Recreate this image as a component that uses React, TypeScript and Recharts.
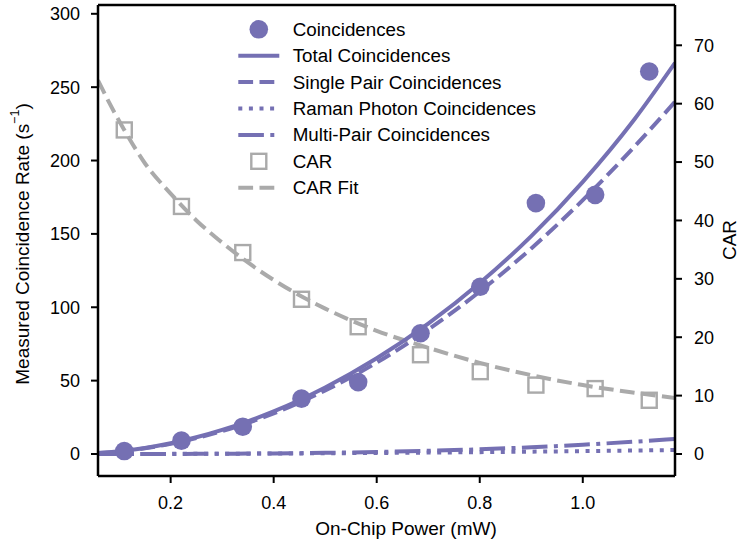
import {
  ComposedChart,
  Line,
  Scatter,
  XAxis,
  YAxis,
  ReferenceLine,
  Legend,
} from 'recharts';

const PURPLE = '#7570b3';
const GRAY = '#aaaaaa';
const FONT = '"Liberation Sans", Arial, sans-serif';

// measured points
const powers = [0.11, 0.221, 0.34, 0.454, 0.564, 0.685, 0.801, 0.909, 1.024, 1.129];
const coincidences = [2.0, 9.1, 18.6, 37.7, 49.0, 82.3, 114.0, 171.0, 176.6, 260.7];
const car = [55.5, 42.4, 34.5, 26.5, 21.8, 17.0, 14.1, 11.8, 11.2, 9.2];

// fitted curves
const fitPower = [0.059, 0.08, 0.11, 0.15, 0.2, 0.25, 0.3, 0.35, 0.4, 0.5, 0.6, 0.7, 0.8, 0.9, 1.0, 1.1, 1.179];
const totalFit = [0.6, 1.2, 2.2, 4.1, 7.3, 11.4, 16.4, 22.3, 29.0, 45.3, 65.2, 88.8, 116.5, 148.5, 185.5, 228, 266.6];
const singleFit = [0.6, 1.1, 2.1, 3.9, 6.9, 10.8, 15.6, 21.2, 27.7, 43.3, 62.3, 84.8, 110.7, 140.1, 173, 209.4, 240];
const ramanFit = [0.01, 0.01, 0.02, 0.05, 0.08, 0.12, 0.18, 0.24, 0.31, 0.49, 0.7, 0.96, 1.25, 1.6, 1.95, 2.36, 2.7];
const multiFit = [0, 0, 0.01, 0.02, 0.05, 0.1, 0.17, 0.27, 0.4, 0.8, 1.4, 2.2, 3.2, 4.6, 6.3, 8.4, 10.2];
const carFit = [64.0, 60.3, 55.5, 49.8, 44.6, 40.0, 36.2, 32.8, 29.8, 24.9, 21.1, 18.2, 15.6, 13.5, 11.8, 10.5, 9.6];

const xTicks = [0.2, 0.4, 0.6, 0.8, 1.0];
const leftTicks = [0, 50, 100, 150, 200, 250, 300];
const rightTicks = [0, 10, 20, 30, 40, 50, 60, 70];

const series = (xs: number[], ys: number[]) => xs.map((p, i) => ({ p, v: ys[i] }));

const LEGEND_ITEMS = [
  { name: 'Coincidences', kind: 'circle' },
  { name: 'Total Coincidences', kind: 'line', dash: undefined, color: PURPLE },
  { name: 'Single Pair Coincidences', kind: 'line', dash: '14.8 6.4', color: PURPLE },
  { name: 'Raman Photon Coincidences', kind: 'line', dash: '4 6.6', color: PURPLE },
  { name: 'Multi-Pair Coincidences', kind: 'line', dash: '25.6 6.4 4 6.4', color: PURPLE },
  { name: 'CAR', kind: 'square' },
  { name: 'CAR Fit', kind: 'line', dash: '14.8 6.4', color: GRAY },
];

const LegendBox = () => (
  <svg width={340} height={190} style={{ fontFamily: FONT, overflow: 'visible' }}>
    {LEGEND_ITEMS.map((it, i) => {
      const y = 15.3 + i * 26.4;
      return (
        <g key={it.name}>
          {it.kind === 'circle' && <circle cx={30.8} cy={y} r={9.3} fill={PURPLE} />}
          {it.kind === 'square' && (
            <rect x={23.3} y={y - 7.5} width={15} height={15} fill="none" stroke={GRAY} strokeWidth={2.4} />
          )}
          {it.kind === 'line' && (
            <line x1={10.3} x2={51.3} y1={y} y2={y} stroke={it.color} strokeWidth={4} strokeDasharray={it.dash} />
          )}
          <text x={64.7} y={y} dominantBaseline="central" fontSize={18.8} fill="#000">
            {it.name}
          </text>
        </g>
      );
    })}
  </svg>
);

const LeftLabel = () => (
  <text
    x={22}
    y={244}
    transform="rotate(-90, 22, 244)"
    textAnchor="middle"
    dominantBaseline="central"
    fontSize={19}
    fill="#000"
    fontFamily={FONT}
  >
    Measured Coincidence Rate (s<tspan baselineShift="super" fontSize={12.5}>−1</tspan>)
  </text>
);

const RightLabel = () => (
  <text
    x={729}
    y={240}
    transform="rotate(-90, 729, 240)"
    textAnchor="middle"
    dominantBaseline="central"
    fontSize={19}
    fill="#000"
    fontFamily={FONT}
  >
    CAR
  </text>
);

const BottomLabel = () => (
  <text x={406} y={528} textAnchor="middle" dominantBaseline="central" fontSize={19} fill="#000" fontFamily={FONT}>
    On-Chip Power (mW)
  </text>
);

const Dot = (props: any) => <circle cx={props.cx} cy={props.cy} r={9.3} fill={PURPLE} />;
const Square = (props: any) => (
  <rect x={props.cx - 7.5} y={props.cy - 7.5} width={15} height={15} fill="none" stroke={GRAY} strokeWidth={2.4} />
);

const axisLine = { stroke: '#000', strokeWidth: 2.5 };
const tickLine = { stroke: '#000', strokeWidth: 2 };
const tick = { fill: '#000', fontSize: 18, fontFamily: FONT };

export default function App() {
  return (
    <div style={{ position: 'absolute', left: 0, top: 0, width: 738, height: 541, background: '#fff' }}>
      <ComposedChart width={738} height={541} margin={{ top: 5, right: 0, bottom: 0, left: 0 }} style={{ fontFamily: FONT }}>
        <XAxis
          type="number"
          dataKey="p"
          domain={[0.059, 1.179]}
          allowDataOverflow
          ticks={xTicks}
          tickFormatter={(v: number) => v.toFixed(1)}
          height={65}
          tickSize={7}
          tickMargin={13}
          axisLine={axisLine}
          tickLine={tickLine}
          tick={tick}
          label={<BottomLabel />}
        />
        <YAxis
          yAxisId="left"
          type="number"
          domain={[-15, 306]}
          allowDataOverflow
          ticks={leftTicks}
          width={98}
          tickSize={7}
          tickMargin={11}
          axisLine={axisLine}
          tickLine={tickLine}
          tick={tick}
          label={<LeftLabel />}
        />
        <YAxis
          yAxisId="right"
          orientation="right"
          type="number"
          domain={[-3.77, 76.9]}
          allowDataOverflow
          ticks={rightTicks}
          width={63}
          tickSize={7}
          tickMargin={12}
          axisLine={axisLine}
          tickLine={tickLine}
          tick={tick}
          label={<RightLabel />}
        />
        <ReferenceLine yAxisId="left" y={306} stroke="#000" strokeWidth={2.5} />

        <Line yAxisId="right" data={series(fitPower, carFit)} dataKey="v" type="monotone" stroke={GRAY} strokeWidth={4} strokeDasharray="14.8 6.4" dot={false} isAnimationActive={false} />
        <Line yAxisId="left" data={series(fitPower, totalFit)} dataKey="v" type="monotone" stroke={PURPLE} strokeWidth={4} dot={false} isAnimationActive={false} />
        <Line yAxisId="left" data={series(fitPower, singleFit)} dataKey="v" type="monotone" stroke={PURPLE} strokeWidth={4} strokeDasharray="14.8 6.4" dot={false} isAnimationActive={false} />
        <Line yAxisId="left" data={series(fitPower, ramanFit)} dataKey="v" type="monotone" stroke={PURPLE} strokeWidth={4} strokeDasharray="4 6.6" dot={false} isAnimationActive={false} />
        <Line yAxisId="left" data={series(fitPower, multiFit)} dataKey="v" type="monotone" stroke={PURPLE} strokeWidth={4} strokeDasharray="25.6 6.4 4 6.4" dot={false} isAnimationActive={false} />

        <Scatter yAxisId="left" data={series(powers, coincidences)} dataKey="v" shape={<Dot />} isAnimationActive={false} />
        <Scatter yAxisId="right" data={series(powers, car)} dataKey="v" shape={<Square />} isAnimationActive={false} />

        <Legend
          layout="vertical"
          align="center"
          verticalAlign="middle"
          content={<LegendBox />}
          wrapperStyle={{ left: 228, top: 14, width: 340, height: 190 }}
        />
      </ComposedChart>
    </div>
  );
}
